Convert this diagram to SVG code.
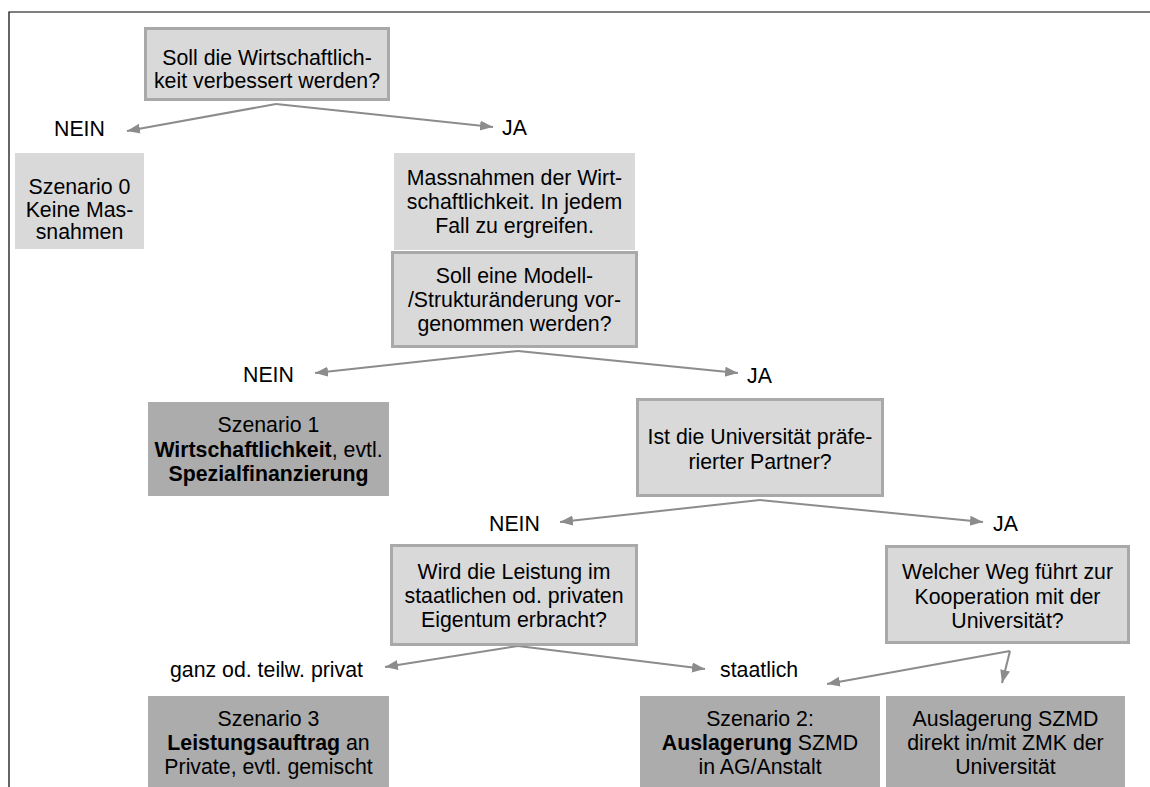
<svg xmlns="http://www.w3.org/2000/svg" width="1150" height="787" viewBox="0 0 1150 787">
<defs>
<style>
text{font-family:"Liberation Sans",Arial,Helvetica,sans-serif;font-size:21.3px;fill:#000}
.c{text-anchor:middle}
.b{font-weight:bold}
.q{fill:#d9d9d9;stroke:#a9a9a9;stroke-width:3}
.l{fill:#d9d9d9}
.d{fill:#acacac}
.e{stroke:#8c8c8c;stroke-width:2;fill:none;marker-end:url(#ah)}
</style>
<marker id="ah" markerUnits="userSpaceOnUse" markerWidth="14" markerHeight="11" refX="13" refY="5" orient="auto">
<path d="M0,0 L13,5 L0,10 z" fill="#8c8c8c"/>
</marker>
</defs>
<rect width="1150" height="787" fill="#fff"/>
<path d="M9,787 V12 H1150" fill="none" stroke="#000" stroke-width="1.2"/>

<g id="connectors">
<line class="e" x1="276" y1="104" x2="127" y2="131"/>
<line class="e" x1="276" y1="104" x2="493" y2="127"/>
<line class="e" x1="518" y1="351" x2="315" y2="373"/>
<line class="e" x1="518" y1="351" x2="738" y2="373"/>
<line class="e" x1="760" y1="500" x2="560" y2="522"/>
<line class="e" x1="760" y1="500" x2="983" y2="522"/>
<line class="e" x1="518" y1="646" x2="385" y2="667"/>
<line class="e" x1="518" y1="646" x2="705" y2="669"/>
<line class="e" x1="1010" y1="651" x2="827" y2="684"/>
<line class="e" x1="1010" y1="651" x2="1002" y2="683"/>
<text x="54" y="136">NEIN</text>
<text x="502" y="135">JA</text>
<text x="243" y="382">NEIN</text>
<text x="747" y="383">JA</text>
<text x="489" y="531">NEIN</text>
<text x="993" y="531">JA</text>
<text x="170" y="677">ganz od. teilw. privat</text>
<text x="720" y="677">staatlich</text>
</g>

<g id="q1">
<rect class="q" x="145.5" y="28.5" width="243" height="71"/>
<text class="c" x="267" y="65">Soll die Wirtschaftlich-</text>
<text class="c" x="267" y="88">keit verbessert werden?</text>
</g>

<g id="s0">
<rect class="l" x="15" y="153" width="129" height="96"/>
<text class="c" x="79.5" y="194">Szenario 0</text>
<text class="c" x="79.5" y="217">Keine Mas-</text>
<text class="c" x="79.5" y="239">snahmen</text>
</g>

<g id="m1">
<rect class="l" x="394" y="153" width="241" height="97"/>
<text class="c" x="514.5" y="185">Massnahmen der Wirt-</text>
<text class="c" x="514.5" y="209">schaftlichkeit. In jedem</text>
<text class="c" x="514.5" y="233">Fall zu ergreifen.</text>
</g>

<g id="q2">
<rect class="q" x="392.5" y="252.5" width="244" height="94"/>
<text class="c" x="514.5" y="283">Soll eine Modell-</text>
<text class="c" x="514.5" y="307">/Strukturänderung vor-</text>
<text class="c" x="514.5" y="331">genommen werden?</text>
</g>

<g id="s1">
<rect class="d" x="148" y="402" width="241" height="94"/>
<text class="c" x="268.5" y="432">Szenario 1</text>
<text class="c" x="268.5" y="457"><tspan class="b">Wirtschaftlichkeit</tspan>, evtl.</text>
<text class="c b" x="268.5" y="481">Spezialfinanzierung</text>
</g>

<g id="q3">
<rect class="q" x="637.5" y="399.5" width="245" height="96"/>
<text class="c" x="760" y="444">Ist die Universität präfe-</text>
<text class="c" x="760" y="469">rierter Partner?</text>
</g>

<g id="q4">
<rect class="q" x="391.5" y="545.5" width="245" height="99"/>
<text class="c" x="514" y="579">Wird die Leistung im</text>
<text class="c" x="514" y="603">staatlichen od. privaten</text>
<text class="c" x="514" y="627">Eigentum erbracht?</text>
</g>

<g id="q5">
<rect class="q" x="886.5" y="546.5" width="242" height="96"/>
<text class="c" x="1007.5" y="579">Welcher Weg führt zur</text>
<text class="c" x="1007.5" y="604">Kooperation mit der</text>
<text class="c" x="1007.5" y="628">Universität?</text>
</g>

<g id="s3">
<rect class="d" x="148" y="696" width="241" height="95"/>
<text class="c" x="268.5" y="726">Szenario 3</text>
<text class="c" x="268.5" y="750"><tspan class="b">Leistungsauftrag</tspan> an</text>
<text class="c" x="268.5" y="774">Private, evtl. gemischt</text>
</g>

<g id="s2">
<rect class="d" x="640" y="696" width="240" height="95"/>
<text class="c" x="760" y="726">Szenario 2:</text>
<text class="c" x="760" y="750"><tspan class="b">Auslagerung</tspan> SZMD</text>
<text class="c" x="760" y="774">in AG/Anstalt</text>
</g>

<g id="s4">
<rect class="d" x="886" y="696" width="239" height="95"/>
<text class="c" x="1005.5" y="726">Auslagerung SZMD</text>
<text class="c" x="1005.5" y="750">direkt in/mit ZMK der</text>
<text class="c" x="1005.5" y="774">Universität</text>
</g>
</svg>
